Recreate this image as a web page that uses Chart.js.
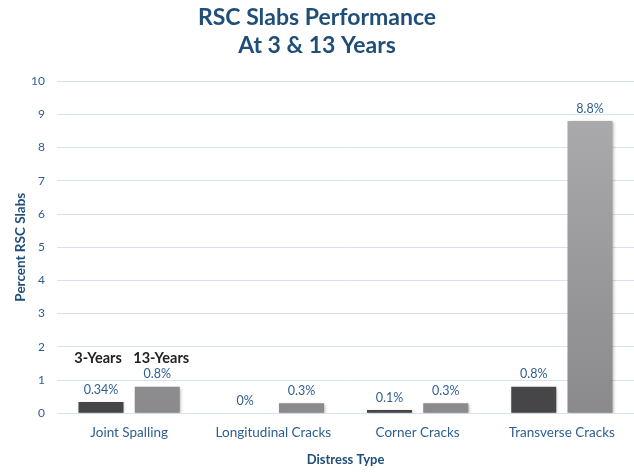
<!DOCTYPE html>
<html>
<head>
<meta charset="utf-8">
<script src="https://cdn.jsdelivr.net/npm/chart.js@4"></script>
<style>
  html, body { margin: 0; padding: 0; background: #fff; }
  #wrap { width: 634px; height: 474px; }
</style>
</head>
<body>
<div id="wrap"><canvas id="myChart"></canvas></div>
<script>
const categories = ['Joint Spalling', 'Longitudinal Cracks', 'Corner Cracks', 'Transverse Cracks'];
const seriesNames = ['3-Years', '13-Years'];
const threeYears = [0.34, 0, 0.1, 0.8];
const thirteenYears = [0.8, 0.3, 0.3, 8.8];
const threeLabels = ['0.34%', '0%', '0.1%', '0.8%'];
const thirteenLabels = ['0.8%', '0.3%', '0.3%', '8.8%'];

const blue = '#2D5F91';
const font = "Lato, 'Open Sans', sans-serif";

function grad(ctx, top, bottom) {
    const area = ctx.chart.chartArea;
    if (!area) return top;
    const el = ctx.element;
    const y0 = el && el.y != null ? el.y : area.top;
    const y1 = el && el.base != null ? el.base : area.bottom;
    const g = ctx.chart.ctx.createLinearGradient(0, y0, 0, y1 === y0 ? y0 + 1 : y1);
    g.addColorStop(0, top);
    g.addColorStop(1, bottom);
    return g;
}

// soft shadow behind the bars
const barShadow = {
    id: 'barShadow',
    beforeDatasetDraw(chart) {
        const c = chart.ctx;
        c.save();
        c.shadowColor = 'rgba(0,0,0,0.3)';
        c.shadowBlur = 3;
        c.shadowOffsetX = 1;
        c.shadowOffsetY = 1;
    },
    afterDatasetDraw(chart) {
        chart.ctx.restore();
    }
};

const valueLabels = {
    id: 'valueLabels',
    afterDatasetsDraw(chart) {
        const c = chart.ctx;
        const texts = [threeLabels, thirteenLabels];
        c.save();
        c.font = "12.5px " + font;
        c.fillStyle = blue;
        c.textAlign = 'center';
        c.textBaseline = 'bottom';
        chart.data.datasets.forEach((ds, i) => {
            chart.getDatasetMeta(i).data.forEach((bar, j) => {
                c.fillText(texts[i][j], bar.x, bar.y - 6);
            });
        });
        // series names above the first group
        c.font = "bold 14.5px " + font;
        c.fillStyle = '#222';
        const yPos = chart.scales.y.getPixelForValue(1.68);
        seriesNames.forEach((name, i) => {
            const bar = chart.getDatasetMeta(i).data[0];
            c.fillText(name, bar.x + (i === 0 ? -3 : 4), yPos + 8);
        });
        c.restore();
    }
};

new Chart(document.getElementById('myChart'), {
    type: 'bar',
    data: {
        labels: categories,
        datasets: [{
            label: seriesNames[0],
            data: threeYears,
            backgroundColor: ctx => grad(ctx, '#646466', '#454548'),
            categoryPercentage: 0.78,
            barPercentage: 0.8
        }, {
            label: seriesNames[1],
            data: thirteenYears,
            backgroundColor: ctx => grad(ctx, '#aeaeb1', '#8a8a8d'),
            categoryPercentage: 0.78,
            barPercentage: 0.8
        }]
    },
    options: {
        responsive: true,
        maintainAspectRatio: false,
        animation: false,
        layout: { padding: { left: 0, right: 0, top: 0, bottom: 4 } },
        plugins: {
            legend: { display: false },
            tooltip: { enabled: false },
            title: {
                display: true,
                text: ['RSC Slabs Performance', 'At 3 & 13 Years'],
                color: '#1F4E79',
                font: { family: font, size: 23, weight: 'bold', lineHeight: 1.2 },
                padding: { top: 4, bottom: 22 }
            }
        },
        scales: {
            x: {
                grid: { display: false },
                border: { color: '#D6E3F2' },
                ticks: { color: blue, font: { family: font, size: 13.5 }, padding: 3 },
                title: {
                    display: true, text: 'Distress Type', color: '#1F4E79',
                    font: { family: font, size: 13, weight: 'bold' }, padding: { top: 9, bottom: 2 }
                }
            },
            y: {
                min: 0, max: 10,
                afterFit: scale => { scale.width = 57; },
                ticks: { stepSize: 1, color: blue, font: { family: font, size: 12 }, padding: 12 },
                grid: { color: '#D6E3F2', drawTicks: false },
                border: { display: false },
                title: {
                    display: true, text: 'Percent RSC Slabs', color: '#1F4E79',
                    font: { family: font, size: 13.5, weight: 'bold' }, padding: { top: 13, bottom: 0 }
                }
            }
        }
    },
    plugins: [barShadow, valueLabels]
});
</script>
</body>
</html>
